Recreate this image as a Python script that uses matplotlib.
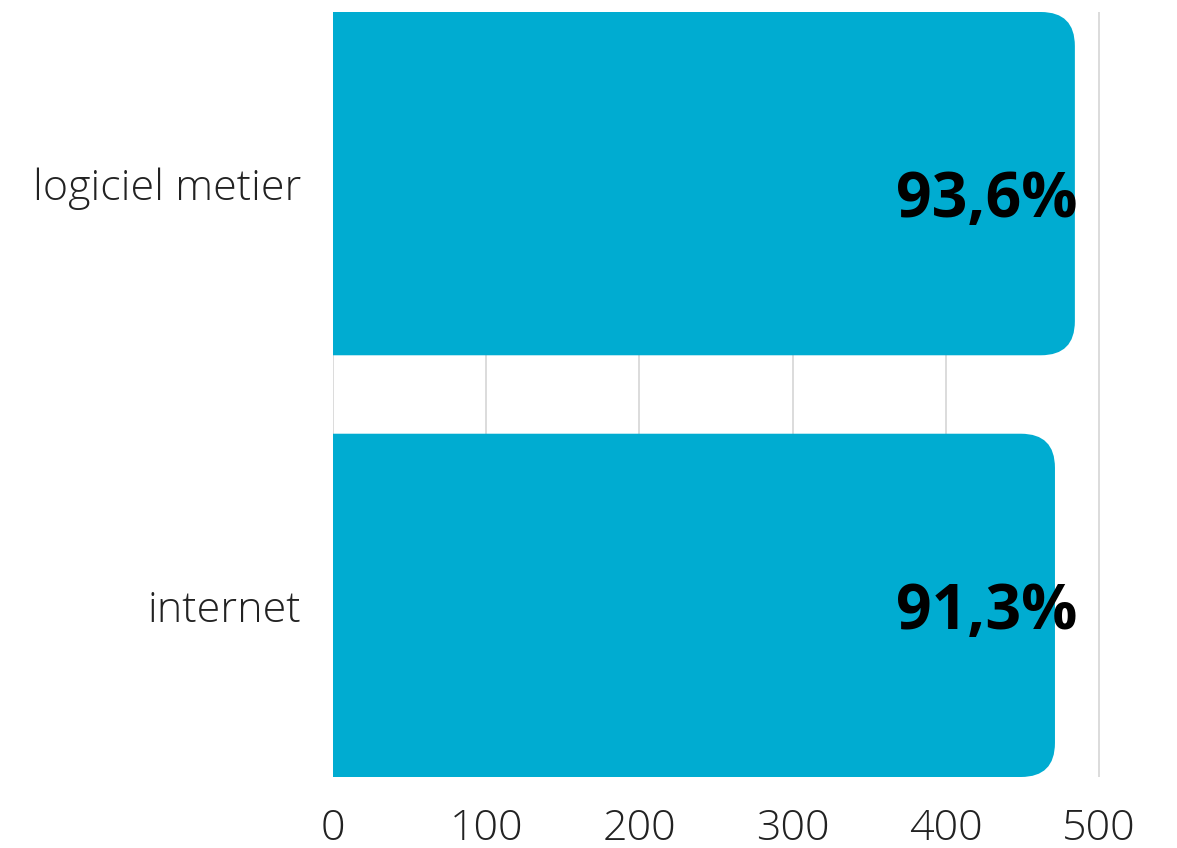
import matplotlib
matplotlib.use("Agg")
import matplotlib.pyplot as plt
from matplotlib.patches import FancyBboxPatch

categories = ["internet", "logiciel metier"]
values = [471.3, 484.3]
labels = ["91,3%", "93,6%"]

plt.rcParams['font.family'] = ['Open Sans', 'DejaVu Sans']

fig = plt.figure(figsize=(11.77, 8.48), dpi=100)
ax = fig.add_axes([333 / 1177, 1 - 777 / 848, (1100 - 333) / 1177, 765 / 848])

color = '#00acd1'
h = 0.814
ax.set_xlim(0, 500.7)  # a little room so the 500 gridline is not clipped
ax.set_ylim(-h / 2, 1 + h / 2)
ax.set_axisbelow(True)

# pixel sizes in data units, used for rounded corners
px_x = 500 / 766.0
px_y = (1 + h) / 765.0
r = 34 * px_x
start = -50 * px_x  # left corners hidden outside the axes
label_dy = [7.5, 17]  # px, small vertical nudge of the value labels
for i, v in enumerate(values):
    box = FancyBboxPatch((start, i - h / 2), v - start, h,
                         boxstyle="round,pad=0,rounding_size=%f" % r,
                         mutation_aspect=px_y / px_x,
                         fc=color, ec='none', zorder=3, clip_on=True)
    ax.add_patch(box)
    ax.text(max(values) + 1.5, i - label_dy[i] * px_y, labels[i], ha='right', va='center',
            fontsize=45, fontweight='bold', color='black', zorder=4)

ax.set_xticks([0, 100, 200, 300, 400, 500])
ax.set_yticks([0, 1])
ax.set_yticklabels(categories)
ax.grid(axis='x', color='#d6d6d6', linewidth=1.2)
ax.tick_params(axis='both', length=0, labelsize=31)
ax.tick_params(axis='y', pad=23)
ax.tick_params(axis='x', pad=22)
for lab in ax.get_xticklabels() + ax.get_yticklabels():
    lab.set_fontweight('light')
    lab.set_color('#222222')
for s in ax.spines.values():
    s.set_visible(False)

fig.savefig("out.png", dpi=100)
